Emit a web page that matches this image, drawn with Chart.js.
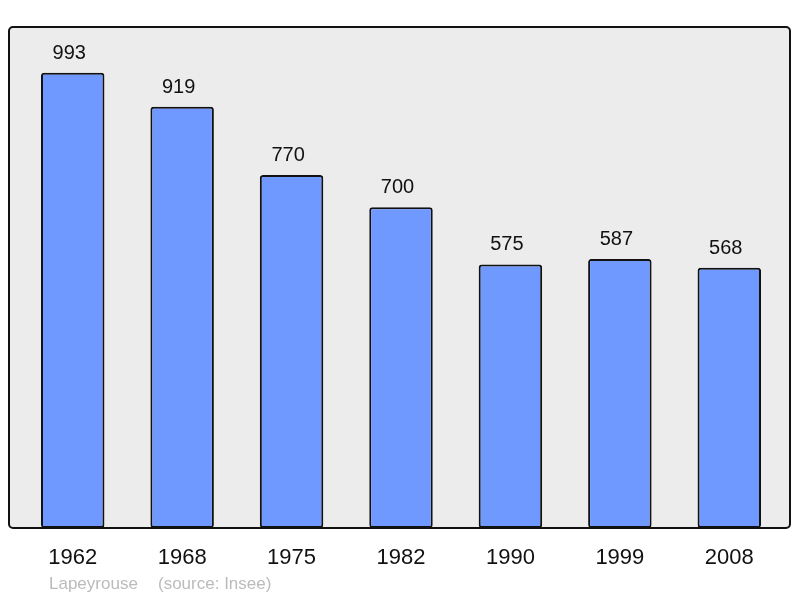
<!DOCTYPE html>
<html><head><meta charset="utf-8">
<script src="https://cdn.jsdelivr.net/npm/chart.js@4"></script>
<style>html,body{margin:0;padding:0;background:#fff}#wrap{width:800px;height:598px;position:relative}</style>
</head><body><div id="wrap"><canvas id="c" width="800" height="598"></canvas></div>
<script>
const categories = ["1962","1968","1975","1982","1990","1999","2008"];
const population = [993,919,770,700,575,587,568];
const footerPlace = "Lapeyrouse";
const footerSource = "(source: Insee)";

const framePlugin = {
  id:'frame',
  beforeDraw(chart){
    const {ctx, chartArea:a} = chart;
    const l=a.left-9, r=a.right+6, t=a.top, b=a.bottom;
    ctx.save();
    ctx.beginPath();
    ctx.roundRect(l,t,r-l,b-t,4);
    ctx.fillStyle='#ececec';
    ctx.fill();
    ctx.restore();
  },
  afterDatasetsDraw(chart){
    const {ctx, chartArea:a} = chart;
    const l=a.left-9, r=a.right+6, t=a.top, b=a.bottom;
    ctx.save();
    ctx.beginPath();
    ctx.roundRect(l,t,r-l,b-t,4);
    ctx.lineWidth=2;
    ctx.strokeStyle='#111';
    ctx.stroke();
    const meta = chart.getDatasetMeta(0);
    ctx.fillStyle='#111';
    ctx.font='20px "Liberation Sans", Arial, sans-serif';
    ctx.textAlign='center';
    ctx.textBaseline='alphabetic';
    meta.data.forEach((bar,i)=>{
      ctx.fillText(String(population[i]), bar.x-3.5, bar.y-14);
    });
    ctx.fillStyle='#bbbbbb';
    ctx.font='17px "Liberation Sans", Arial, sans-serif';
    ctx.textAlign='left';
    ctx.textBaseline='middle';
    ctx.fillText(footerPlace, l+40, b+56);
    ctx.fillText(footerSource, l+149, b+56);
    ctx.restore();
  }
};

new Chart(document.getElementById('c'), {
  type:'bar',
  data:{labels:categories, datasets:[{data:population, backgroundColor:'#7099ff', borderColor:'#111', borderWidth:2, borderRadius:3, borderSkipped:false, barPercentage:0.58, categoryPercentage:1}]},
  options:{
    responsive:false, animation:false,
    layout:{padding:{left:18,right:16,top:27,bottom:0}},
    plugins:{legend:{display:false}, tooltip:{enabled:false}},
    scales:{
      x:{grid:{display:false}, border:{display:false},
         ticks:{color:'#111', font:{family:'"Liberation Sans", Arial, sans-serif', size:22}, padding:9},
         afterFit(s){ s.height = 70; }},
      y:{display:false, min:0, max:1093}
    }
  },
  plugins:[framePlugin]
});
</script></body></html>
